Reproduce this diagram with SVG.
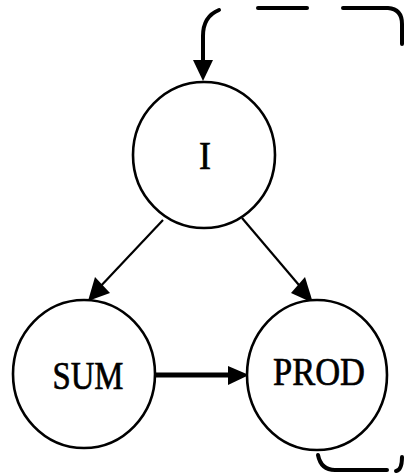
<svg xmlns="http://www.w3.org/2000/svg" width="404" height="476" viewBox="0 0 404 476">
<style>
.node ellipse{fill:#fff;stroke:#000;stroke-width:2.6}
.node text{font-family:"Liberation Serif","Times New Roman",serif;font-size:39px;fill:#000;stroke:#000;stroke-width:0.7;text-anchor:middle}
.loop{fill:none;stroke:#000;stroke-width:4;stroke-linecap:round}
.edge{fill:none;stroke:#000;stroke-width:2.2}
.thick{stroke-width:5}
.head{fill:#000;stroke:none}
</style>
<rect width="404" height="476" fill="#fff"/>
<g id="connectors">
<path class="loop" d="M219,10 C209,14 203,22 203,36 L203,62"/>
<polygon class="head" points="193,60 213,60 203,81"/>
<path class="loop" d="M258,8 L307,8"/>
<path class="loop" d="M343,8 L388,8 Q402,9 402,24 L402,44"/>
<path class="loop" d="M318,455 Q321,470 335,470 L387,470"/>
<path class="loop" d="M396,471 Q402,470 402,457"/>
<line class="edge" x1="163" y1="220" x2="98" y2="289"/>
<polygon class="head" points="88,301 95,277 110,293"/>
<line class="edge" x1="242" y1="218" x2="304" y2="291"/>
<polygon class="head" points="313,303 291,293 305,277"/>
<line class="edge thick" x1="155" y1="375" x2="232" y2="375"/>
<polygon class="head" points="228,366 249,375 228,385"/>
</g>
<g id="node-I" class="node">
<ellipse cx="204" cy="155" rx="71" ry="73"/>
<text x="205" y="169" textLength="12" lengthAdjust="spacingAndGlyphs">I</text>
</g>
<g id="node-SUM" class="node">
<ellipse cx="84" cy="374" rx="71" ry="74"/>
<text x="88" y="389" textLength="71" lengthAdjust="spacingAndGlyphs">SUM</text>
</g>
<g id="node-PROD" class="node">
<ellipse cx="317" cy="375" rx="70" ry="75"/>
<text x="319" y="385" textLength="92" lengthAdjust="spacingAndGlyphs">PROD</text>
</g>
</svg>
